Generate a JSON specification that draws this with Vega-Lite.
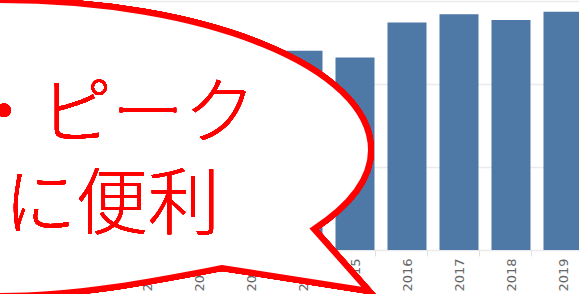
{
  "$schema": "https://vega.github.io/schema/vega-lite/v6.json",
  "autosize": {"type": "none"},
  "padding": {"left": 17, "top": 1, "right": -10, "bottom": 44},
  "width": 572,
  "height": 249,
  "background": "#ffffff",
  "config": {"view": {"stroke": null}},
  "data": {
    "values": [
      {"year": "2009", "value": 70},
      {"year": "2010", "value": 80},
      {"year": "2011", "value": 92},
      {"year": "2012", "value": 100},
      {"year": "2013", "value": 110},
      {"year": "2014", "value": 120},
      {"year": "2015", "value": 116},
      {"year": "2016", "value": 137},
      {"year": "2017", "value": 142},
      {"year": "2018", "value": 138.5},
      {"year": "2019", "value": 143.5}
    ]
  },
  "layer": [
    {
      "mark": {"type": "bar", "color": "#4e79a7"},
      "encoding": {
        "x": {
          "field": "year",
          "type": "ordinal",
          "scale": {"paddingInner": 0.25, "paddingOuter": 0.125},
          "axis": {
            "title": null,
            "labelAngle": -90,
            "labelFont": "DejaVu Sans",
            "labelFontSize": 13,
            "labelColor": "#666666",
            "labelPadding": 2,
            "domain": false,
            "tickBand": "extent",
            "tickColor": "#e0e0e0",
            "tickSize": 6,
            "grid": false
          }
        },
        "y": {
          "field": "value",
          "type": "quantitative",
          "scale": {"domain": [0, 150], "nice": false},
          "axis": {
            "title": null,
            "values": [0, 50, 100, 150],
            "labels": false,
            "ticks": false,
            "domain": false,
            "grid": true,
            "gridColor": "#ebebeb",
            "gridWidth": 1.5
          }
        }
      }
    },
    {
      "mark": {
        "type": "point",
        "shape": "M 115 103.5 C 152.3 78.9 172 52 172 24.5 C 172 -58.3 5.9 -125.5 -199 -125.5 C -403.9 -125.5 -570 -58.3 -570 24.5 C -570 105.1 -403.9 170.5 -199 170.5 C -119 170.5 -39 154.5 23 142.5 L 170 165.5 Z",
        "size": 4,
        "filled": true,
        "fill": "#ffffff",
        "fillOpacity": 1,
        "stroke": "#ff0000",
        "strokeOpacity": 1,
        "strokeWidth": 6,
        "strokeJoin": "miter",
        "opacity": 1
      },
      "encoding": {
        "x": {"datum": "2012", "type": "ordinal"},
        "y": {"datum": 75, "type": "quantitative"}
      }
    },
    {
      "mark": {
        "type": "text",
        "text": ["・ピーク", "に便利"],
        "font": "Noto Sans CJK JP",
        "fontWeight": 300,
        "fontSize": 72,
        "lineHeight": 91,
        "color": "#ff0000",
        "align": "center",
        "baseline": "alphabetic",
        "dx": 17
      },
      "encoding": {
        "x": {"datum": "2010", "type": "ordinal"},
        "y": {"datum": 68, "type": "quantitative"}
      }
    }
  ]
}
